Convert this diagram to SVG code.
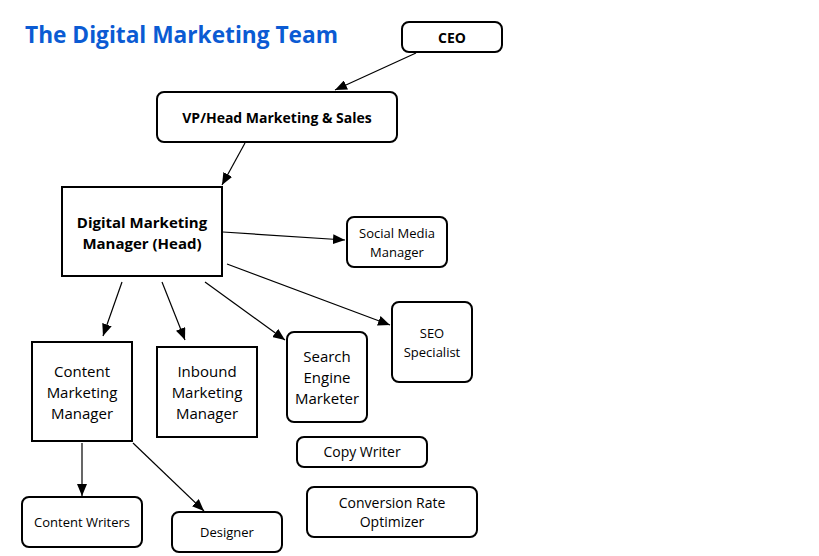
<svg xmlns="http://www.w3.org/2000/svg" width="819" height="556" viewBox="0 0 819 556">
<style>
.box{fill:#fff;stroke:#000;stroke-width:2}
.t{font-family:"Open Sans","Noto Sans","Liberation Sans",sans-serif;fill:#000;text-anchor:middle}
.b{font-weight:bold}
.c{stroke:#000;stroke-width:1.2;fill:none;marker-end:url(#ah)}
</style>
<defs>
<marker id="ah" viewBox="0 0 12 10" refX="12" refY="5" markerWidth="12" markerHeight="10" markerUnits="userSpaceOnUse" orient="auto">
<path d="M0,0 L12,5 L0,10 Z" fill="#000"/>
</marker>
</defs>
<rect width="819" height="556" fill="#fff"/>
<text x="25" y="43" font-family="'Open Sans','Noto Sans',sans-serif" font-weight="bold" font-size="22.7" fill="#0b5bd3">The Digital Marketing Team</text>
<g id="connectors">
<line class="c" x1="416" y1="53" x2="335" y2="90"/>
<line class="c" x1="245" y1="143" x2="222" y2="185"/>
<line class="c" x1="223" y1="232" x2="345" y2="240"/>
<line class="c" x1="227" y1="264" x2="390" y2="325"/>
<line class="c" x1="205" y1="282" x2="285" y2="340"/>
<line class="c" x1="122" y1="282" x2="103" y2="336"/>
<line class="c" x1="162" y1="282" x2="185" y2="340"/>
<line class="c" x1="82" y1="443" x2="82" y2="496"/>
<line class="c" stroke-width="0.8" x1="133" y1="443" x2="204" y2="511"/>
</g>
<g id="ceo"><rect class="box" x="402" y="22" width="100" height="30" rx="7"/><text class="t b" x="452" y="43" font-size="14">CEO</text></g>
<g id="vp"><rect class="box" x="157" y="92" width="240" height="50" rx="7"/><text class="t b" x="277" y="123" font-size="14">VP/Head Marketing &amp; Sales</text></g>
<g id="dmm"><rect class="box" x="62" y="187" width="160" height="89"/><text class="t b" x="142" y="228" font-size="15">Digital Marketing</text><text class="t b" x="142" y="249" font-size="15">Manager (Head)</text></g>
<g id="smm"><rect class="box" x="347" y="217" width="100" height="50" rx="7"/><text class="t" x="397" y="238" font-size="13">Social Media</text><text class="t" x="397" y="257" font-size="13">Manager</text></g>
<g id="seo"><rect class="box" x="392" y="302" width="80" height="80" rx="7"/><text class="t" x="432" y="338" font-size="13">SEO</text><text class="t" x="432" y="357" font-size="13">Specialist</text></g>
<g id="sem"><rect class="box" x="287" y="332" width="80" height="90" rx="7"/><text class="t" x="327" y="362" font-size="15">Search</text><text class="t" x="327" y="383" font-size="15">Engine</text><text class="t" x="327" y="404" font-size="15">Marketer</text></g>
<g id="cmm"><rect class="box" x="32" y="342" width="100" height="99"/><text class="t" x="82" y="377" font-size="15">Content</text><text class="t" x="82" y="398" font-size="15">Marketing</text><text class="t" x="82" y="419" font-size="15">Manager</text></g>
<g id="imm"><rect class="box" x="157" y="347" width="100" height="90"/><text class="t" x="207" y="377" font-size="15">Inbound</text><text class="t" x="207" y="398" font-size="15">Marketing</text><text class="t" x="207" y="419" font-size="15">Manager</text></g>
<g id="copy"><rect class="box" x="297" y="437" width="130" height="30" rx="7"/><text class="t" x="362" y="457" font-size="14">Copy Writer</text></g>
<g id="cro"><rect class="box" x="307" y="487" width="170" height="50" rx="7"/><text class="t" x="392" y="508" font-size="14">Conversion Rate</text><text class="t" x="392" y="527" font-size="14">Optimizer</text></g>
<g id="cw"><rect class="box" x="22" y="497" width="120" height="50" rx="7"/><text class="t" x="82" y="527" font-size="13">Content Writers</text></g>
<g id="des"><rect class="box" x="172" y="512" width="110" height="40" rx="7"/><text class="t" x="227" y="537" font-size="13">Designer</text></g>
</svg>
